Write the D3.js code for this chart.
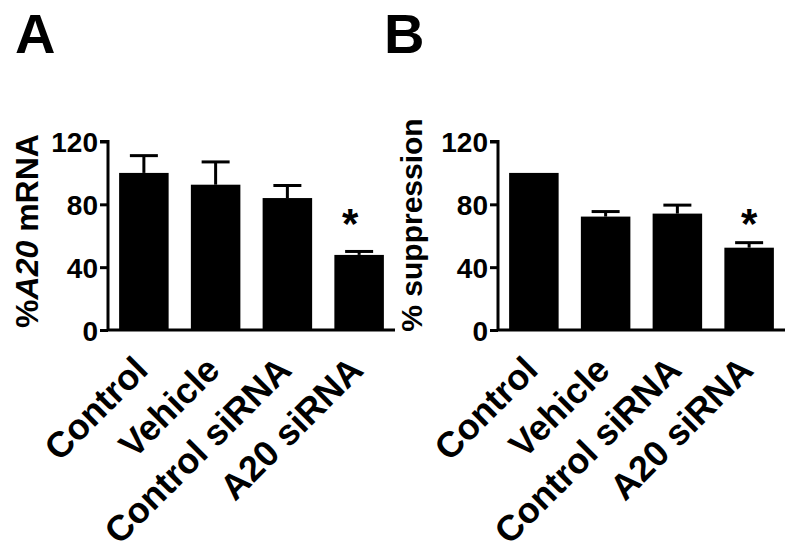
<!DOCTYPE html>
<html><head><meta charset="utf-8">
<script src="https://cdn.jsdelivr.net/npm/d3@7"></script>
<style>body{margin:0;background:#fff}svg{display:block}text{font-family:"Liberation Sans",Arial,Helvetica,sans-serif;font-weight:bold;fill:#000}</style>
</head><body>
<svg id="c" width="800" height="557"></svg>
<script>
const categories = ["Control", "Vehicle", "Control siRNA", "A20 siRNA"];
const mrnaValues = [100, 92.5, 84, 47.8];
const mrnaErrors = [11, 14.5, 8, 2.2];
const suppressionValues = [100, 72.2, 74.1, 52.4];
const suppressionErrors = [0, 3.2, 5.4, 3.2];
const yTicks = [0, 40, 80, 120];
const significant = [false, false, false, true];

const svg = d3.select("#c");

function panel(opts) {
  const g = svg.append("g");
  const x = d3.scaleBand().domain(categories).range([opts.x0, opts.x0 + 287])
    .paddingInner(0.31).paddingOuter(0.155);
  const y = d3.scaleLinear().domain([0, 120]).range([330, 141.5]);

  const rows = categories.map((c, i) => ({c, v: opts.values[i], e: opts.errors[i], s: significant[i]}));

  const eb = g.selectAll(".eb").data(rows.filter(d => d.e > 0)).join("g");
  eb.append("line").attr("x1", d => x(d.c) + x.bandwidth()/2).attr("x2", d => x(d.c) + x.bandwidth()/2)
    .attr("y1", d => y(d.v)).attr("y2", d => y(d.v + d.e)).attr("stroke", "#000").attr("stroke-width", 3);
  eb.append("line").attr("x1", d => x(d.c) + x.bandwidth()/2 - 14).attr("x2", d => x(d.c) + x.bandwidth()/2 + 14)
    .attr("y1", d => y(d.v + d.e)).attr("y2", d => y(d.v + d.e)).attr("stroke", "#000").attr("stroke-width", 3);

  g.selectAll(".bar").data(rows).join("rect")
    .attr("x", d => x(d.c)).attr("width", x.bandwidth())
    .attr("y", d => y(d.v)).attr("height", d => y(0) - y(d.v)).attr("fill", "#000");

  g.selectAll(".star").data(rows.filter(d => d.s)).join("text")
    .attr("x", d => x(d.c) + x.bandwidth()/2 + opts.starDx).attr("y", y(73) + 23)
    .attr("text-anchor", "middle").style("font-size", "42px").text("*");

  const ya = g.append("g").attr("transform", `translate(${opts.x0},0)`)
    .call(d3.axisLeft(y).tickValues(yTicks).tickSize(8).tickPadding(2).tickFormat(d3.format("d")));
  ya.select(".domain").attr("stroke-width", 3).attr("d", `M-8,${y(120)}H0V${y(0)}`);
  ya.selectAll(".tick line").attr("stroke-width", 3);
  ya.selectAll(".tick text").style("font-size", "28px").style("font-family", "Liberation Sans, Arial, sans-serif").style("font-weight", "bold").attr("dy", "0.36em");

  const xa = g.append("g").attr("transform", `translate(0,${y(0)})`)
    .call(d3.axisBottom(x).tickSize(0).tickFormat(""));
  xa.select(".domain").attr("stroke-width", 3).attr("d", `M${opts.x0},0H${opts.x0 + 287}`);

  g.selectAll(".cat").data(categories).join("text")
    .attr("transform", d => `translate(${x(d) + x.bandwidth()/2 + 6},${y(0) + 42}) rotate(-45)`)
    .attr("text-anchor", "end").style("font-size", "36px").text(d => d);

  g.append("text").attr("x", opts.letterX).attr("y", 53).style("font-size", "56px").text(opts.letter);

  const yl = g.append("text").attr("transform", `translate(${opts.labelX},${opts.labelY}) rotate(-90)`)
    .attr("text-anchor", "middle").style("font-size", opts.labelSize);
  opts.label.forEach(p => yl.append("tspan").style("font-style", p.italic ? "italic" : "normal").text(p.t));
}

panel({x0: 108, values: mrnaValues, errors: mrnaErrors, starDx: -9, letter: "A", letterX: 15, labelX: 38, labelY: 231, labelSize: "32px",
  label: [{t: "%"}, {t: "A20", italic: true}, {t: " mRNA"}]});
panel({x0: 498, values: suppressionValues, errors: suppressionErrors, starDx: 0, letter: "B", letterX: 384, labelX: 422, labelY: 225, labelSize: "30px",
  label: [{t: "% suppression"}]});
</script>
</body></html>
